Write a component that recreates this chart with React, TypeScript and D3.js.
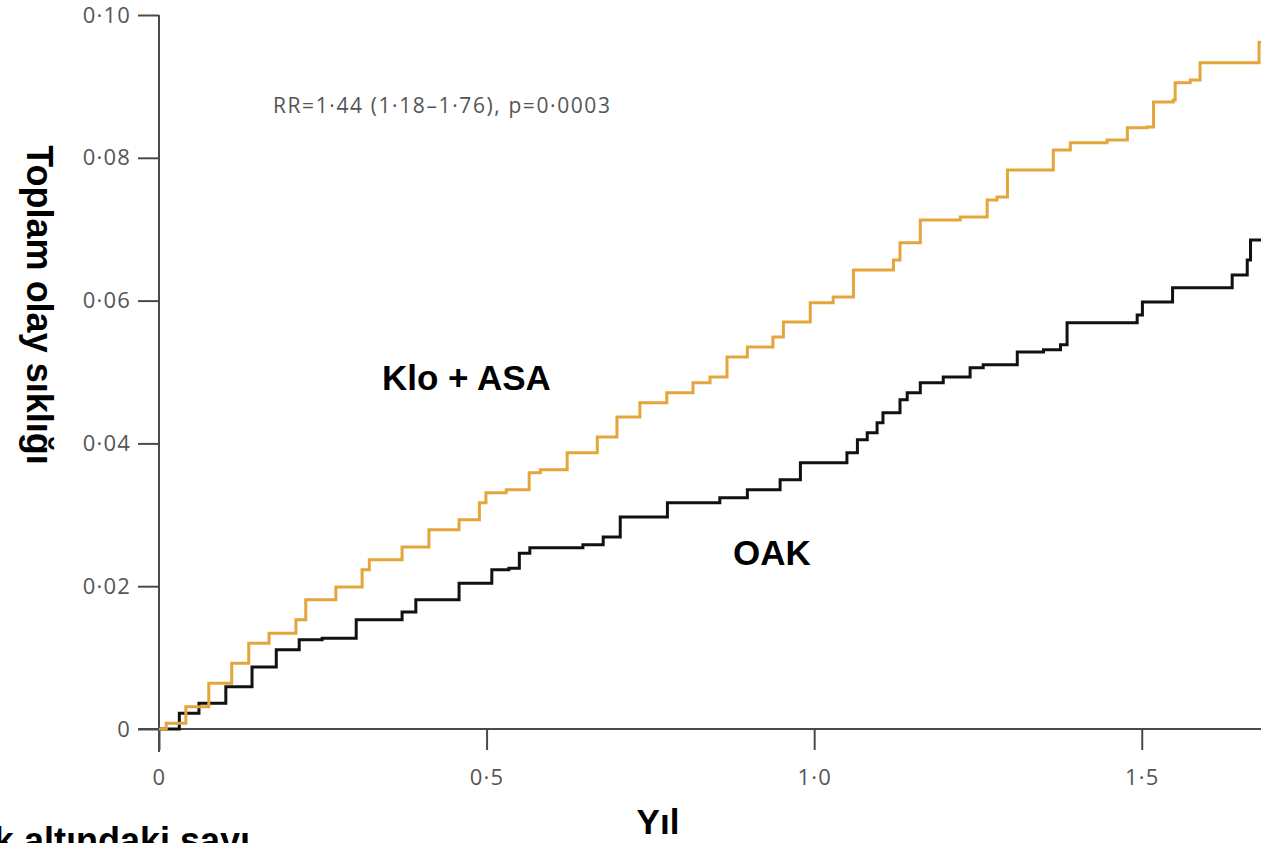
import React, { useEffect, useRef } from 'react'
import * as d3 from 'd3'

// Kümülatif olay sıklığı (Kaplan-Meier basamakları)
const kloAsaYears = [0, 0.011, 0.041, 0.076, 0.111, 0.137, 0.168, 0.209, 0.224, 0.27, 0.31, 0.321, 0.371, 0.412, 0.458, 0.489, 0.499, 0.53, 0.565, 0.582, 0.623, 0.669, 0.699, 0.734, 0.775, 0.815, 0.841, 0.867, 0.898, 0.937, 0.953, 0.994, 1.029, 1.06, 1.121, 1.131, 1.162, 1.223, 1.264, 1.279, 1.295, 1.365, 1.391, 1.447, 1.478, 1.508, 1.518, 1.548, 1.551, 1.574, 1.589, 1.679, 1.682]
const kloAsaRisk = [0, 0.0008, 0.0031, 0.0064, 0.0092, 0.012, 0.0134, 0.0153, 0.0181, 0.0199, 0.0223, 0.0237, 0.0255, 0.0279, 0.0293, 0.0317, 0.0331, 0.0335, 0.0359, 0.0363, 0.0387, 0.0409, 0.0437, 0.0457, 0.0471, 0.0485, 0.0493, 0.0521, 0.0535, 0.0549, 0.057, 0.0597, 0.0605, 0.0643, 0.0657, 0.0681, 0.0713, 0.0717, 0.0741, 0.0745, 0.0783, 0.0811, 0.0821, 0.0825, 0.0842, 0.0843, 0.0878, 0.0881, 0.0905, 0.0909, 0.0933, 0.0962, 0.0962]

const oakYears = [0, 0.031, 0.061, 0.102, 0.142, 0.179, 0.214, 0.249, 0.301, 0.371, 0.392, 0.458, 0.508, 0.534, 0.55, 0.566, 0.647, 0.678, 0.704, 0.776, 0.856, 0.898, 0.948, 0.979, 1.05, 1.066, 1.081, 1.096, 1.105, 1.131, 1.142, 1.162, 1.197, 1.238, 1.258, 1.31, 1.35, 1.376, 1.386, 1.493, 1.501, 1.547, 1.638, 1.661, 1.666, 1.682]
const oakRisk = [0, 0.0022, 0.0036, 0.0059, 0.0087, 0.0111, 0.0125, 0.0127, 0.0153, 0.0164, 0.0181, 0.0204, 0.0223, 0.0225, 0.0246, 0.0254, 0.0258, 0.0269, 0.0297, 0.0317, 0.0324, 0.0335, 0.0349, 0.0373, 0.0387, 0.0405, 0.0415, 0.0429, 0.0443, 0.0461, 0.0471, 0.0485, 0.0493, 0.0506, 0.051, 0.0528, 0.0531, 0.0538, 0.0569, 0.058, 0.0598, 0.0618, 0.0636, 0.0657, 0.0685, 0.0685]

const xTicks = [0, 0.5, 1.0, 1.5]
const yTicks = [0, 0.02, 0.04, 0.06, 0.08, 0.1]

const WIDTH = 1261
const HEIGHT = 843

const dotFormat = (digits: number) => (d: number) =>
  d === 0 ? '0' : d3.format(`.${digits}f`)(d).replace('.', '·')

const App = () => {
  const svgRef = useRef<SVGSVGElement>(null)

  useEffect(() => {
    if (!svgRef.current) return
    const svg = d3.select(svgRef.current)
    svg.selectAll('*').remove()

    const x = d3.scaleLinear().domain([0, 1.682]).range([159, 1261])
    const y = d3.scaleLinear().domain([0, 0.1]).range([729, 15])

    const axisColor = '#4a4a4a'
    const labelFont = "'Open Sans', sans-serif"

    // y axis
    const yAxis = svg.append('g')
      .attr('transform', `translate(${x(0)},0)`)
      .call(d3.axisLeft(y).tickValues(yTicks).tickSize(21).tickPadding(7).tickFormat(dotFormat(2) as any))
    yAxis.select('.domain').attr('stroke', axisColor).attr('stroke-width', 2)
      .attr('d', `M0,${y(0.1)}V${y(0) + 23}`)
    yAxis.selectAll('.tick line').attr('stroke', axisColor).attr('stroke-width', 2)
    yAxis.selectAll('.tick text')
      .attr('fill', '#555')
      .style('font-family', labelFont)
      .style('font-size', '22px')
      .style('letter-spacing', '1.2px')

    // x axis
    const xAxis = svg.append('g')
      .attr('transform', `translate(0,${y(0)})`)
      .call(d3.axisBottom(x).tickValues(xTicks).tickSize(21).tickPadding(19).tickFormat(dotFormat(1) as any))
    xAxis.select('.domain').attr('stroke', axisColor).attr('stroke-width', 2)
      .attr('d', `M${x(0) - 21},0H${WIDTH}`)
    xAxis.selectAll('.tick line').attr('stroke', axisColor).attr('stroke-width', 2)
    xAxis.selectAll('.tick text')
      .attr('fill', '#555')
      .style('font-family', labelFont)
      .style('font-size', '22px')
      .style('letter-spacing', '1.2px')

    const line = d3.line<[number, number]>()
      .x(d => x(d[0]))
      .y(d => y(d[1]))
      .curve(d3.curveStepAfter)

    const kloAsa: [number, number][] = kloAsaYears.map((t, i) => [t, kloAsaRisk[i]])
    const oak: [number, number][] = oakYears.map((t, i) => [t, oakRisk[i]])

    svg.append('path')
      .datum(oak)
      .attr('d', line)
      .attr('fill', 'none')
      .attr('stroke', '#111')
      .attr('stroke-width', 3)

    svg.append('path')
      .datum(kloAsa)
      .attr('d', line)
      .attr('fill', 'none')
      .attr('stroke', '#e4a53a')
      .attr('stroke-width', 3)

    // annotation
    svg.append('text')
      .attr('x', 273)
      .attr('y', 113)
      .attr('fill', '#555')
      .style('font-family', labelFont)
      .style('font-size', '21px')
      .style('letter-spacing', '1.6px')
      .text('RR=1·44 (1·18–1·76), p=0·0003')

    const boldFont = "'Liberation Sans', Arial, sans-serif"

    svg.append('text')
      .attr('x', 382)
      .attr('y', 390)
      .style('font-family', boldFont)
      .style('font-weight', 'bold')
      .style('font-size', '35px')
      .text('Klo + ASA')

    svg.append('text')
      .attr('x', 733)
      .attr('y', 565)
      .style('font-family', boldFont)
      .style('font-weight', 'bold')
      .style('font-size', '35px')
      .text('OAK')

    // axis titles
    svg.append('text')
      .attr('transform', `translate(27,305) rotate(90)`)
      .attr('text-anchor', 'middle')
      .style('font-family', boldFont)
      .style('font-weight', 'bold')
      .style('font-size', '36px')
      .text('Toplam olay sıklığı')

    svg.append('text')
      .attr('x', 658)
      .attr('y', 834)
      .attr('text-anchor', 'middle')
      .style('font-family', boldFont)
      .style('font-weight', 'bold')
      .style('font-size', '35px')
      .text('Yıl')

    svg.append('text')
      .attr('x', 250)
      .attr('y', 853)
      .attr('text-anchor', 'end')
      .style('font-family', boldFont)
      .style('font-weight', 'bold')
      .style('font-size', '36px')
      .text('Risk altındaki sayı')
  }, [])

  return (
    <svg
      ref={svgRef}
      width={WIDTH}
      height={HEIGHT}
      style={{ position: 'fixed', left: 0, top: 0, background: '#fff' }}
    />
  )
}

export default App
